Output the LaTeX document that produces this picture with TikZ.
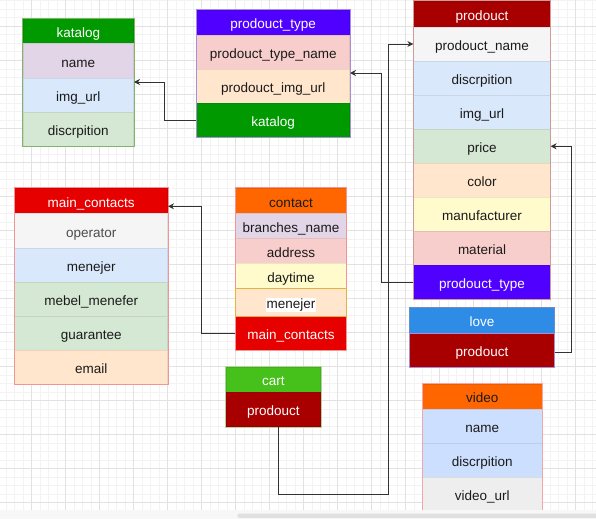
\documentclass[tikz,border=0pt]{standalone}
\usepackage{fontspec}
\setmainfont{Liberation Sans}
\usetikzlibrary{calc,arrows.meta}
\definecolor{gminor}{HTML}{F3F3F3}
\definecolor{gmajor}{HTML}{E2E2E2}
\definecolor{txt}{HTML}{1A1A1A}
\definecolor{hgreen}{HTML}{009900}
\definecolor{hviolet}{HTML}{5000FF}
\definecolor{hdred}{HTML}{A80000}
\definecolor{hred}{HTML}{E60000}
\definecolor{horange}{HTML}{FF6600}
\definecolor{hlime}{HTML}{46C01A}
\definecolor{hblue}{HTML}{2F8CE6}
\definecolor{cpurple}{HTML}{E1D5E7}
\definecolor{cblue}{HTML}{DAE8FC}
\definecolor{cgreen}{HTML}{D5E8D4}
\definecolor{cpink}{HTML}{F8CECC}
\definecolor{cpeach}{HTML}{FFE6CC}
\definecolor{cyellow}{HTML}{FFFBCC}
\definecolor{cgray}{HTML}{F5F5F5}
\definecolor{cgray2}{HTML}{EEEEEE}
\definecolor{cvblue}{HTML}{CDDFFF}
\definecolor{bgreen}{HTML}{82B366}
\definecolor{bviolet}{HTML}{A68FD9}
\definecolor{bred}{HTML}{CF9A9A}
\definecolor{blred}{HTML}{EA6B66}
\definecolor{bblue}{HTML}{6C8EBF}
\definecolor{borange}{HTML}{D79B00}
\definecolor{conncol}{HTML}{333333}
\tikzset{
  cell/.style={rectangle, inner sep=0pt, line width=0.6pt, text=txt,
    font=\fontsize{13.5}{16}\selectfont, text height=13.5pt, text depth=1pt},
  light/.style={text=white},
  outline/.style={line width=0.8pt},
  conn/.style={draw=conncol, line width=0.9pt, -{Stealth[length=6pt,width=6pt]}},
  gridminor/.style={draw=gminor, line width=0.6pt},
  gridmajor/.style={draw=gmajor, line width=0.8pt}
}
% name, x1, y1, x2, y2, fill colour, extra options, text
\newcommand\ercell[8]{%
  \node[cell,fill=#6,draw={#6!92!black},#7,minimum width={(#4-#2)*1pt},minimum height={(#5-#3)*1pt}] (#1)
    at ({(#2+#4)/2},{(#3+#5)/2}) {#8};}
\begin{document}
\begin{tikzpicture}[x=1pt,y=-1pt]
\useasboundingbox (0,0) rectangle (596,519);
\fill[white] (0,0) rectangle (596,519);
% grid
\foreach \i in {0,...,69} \draw[gridminor] ({5.8+8.5*\i},0) -- ({5.8+8.5*\i},510.3);
\foreach \i in {0,...,59} \draw[gridminor] (0,{0.8+8.5*\i}) -- (596,{0.8+8.5*\i});
\foreach \i in {0,...,17} \draw[gridmajor] ({31.3+34*\i},0) -- ({31.3+34*\i},510.3);
\foreach \i in {0,...,14} \draw[gridmajor] (0,{26.3+34*\i}) -- (596,{26.3+34*\i});

% katalog
\ercell{kat_head}{23}{18.3}{133.7}{43.7}{hgreen}{light}{katalog}
\ercell{kat_name}{23}{43.7}{133.7}{78.3}{cpurple}{}{name}
\ercell{kat_img}{23}{78.3}{133.7}{112.3}{cblue}{}{img\_url}
\ercell{kat_disc}{23}{112.3}{133.7}{146}{cgreen}{}{discrpition}
\draw[outline,bgreen] (kat_head.north west) rectangle (kat_disc.south east);

% prodouct_type
\ercell{pt_head}{196.7}{10}{349.7}{35.3}{hviolet}{light}{prodouct\_type}
\ercell{pt_name}{196.7}{35.3}{349.7}{69.3}{cpink}{}{prodouct\_type\_name}
\ercell{pt_img}{196.7}{69.3}{349.7}{103.3}{cpeach}{}{prodouct\_img\_url}
\ercell{pt_kat}{196.7}{103.3}{349.7}{137.3}{hgreen}{light}{katalog}
\draw[outline,bviolet] (pt_head.north west) rectangle (pt_kat.south east);

% prodouct
\ercell{pr_head}{413.7}{1}{550.3}{27}{hdred}{light}{prodouct}
\ercell{pr_name}{413.7}{27}{550.3}{61}{cgray}{}{prodouct\_name}
\ercell{pr_disc}{413.7}{61}{550.3}{95.3}{cblue}{}{discrpition}
\ercell{pr_img}{413.7}{95.3}{550.3}{129.3}{cblue}{}{img\_url}
\ercell{pr_price}{413.7}{129.3}{550.3}{163.3}{cgreen}{}{price}
\ercell{pr_color}{413.7}{163.3}{550.3}{197.3}{cpeach}{}{color}
\ercell{pr_manu}{413.7}{197.3}{550.3}{231}{cyellow}{}{manufacturer}
\ercell{pr_mat}{413.7}{231}{550.3}{265}{cpink}{}{material}
\ercell{pr_type}{413.7}{265}{550.3}{299}{hviolet}{light}{prodouct\_type}
\draw[outline,bred] (pr_head.north west) rectangle (pr_type.south east);

% main_contacts
\ercell{mc_head}{14.7}{188}{167.7}{213.7}{hred}{light}{main\_contacts}
\ercell{mc_op}{14.7}{213.7}{167.7}{248.3}{cgray}{text=black!70}{operator}
\ercell{mc_men}{14.7}{248.3}{167.7}{282.3}{cblue}{}{menejer}
\ercell{mc_meb}{14.7}{282.3}{167.7}{316.3}{cgreen}{}{mebel\_menefer}
\ercell{mc_gua}{14.7}{316.3}{167.7}{350.3}{cgreen}{}{guarantee}
\ercell{mc_email}{14.7}{350.3}{167.7}{384.3}{cpeach}{}{email}
\draw[outline,blred!70] (mc_head.north west) rectangle (mc_email.south east);

% contact
\ercell{ct_head}{235.7}{188}{346.3}{213.7}{horange}{}{contact}
\ercell{ct_br}{235.7}{213.7}{346.3}{238.7}{cpurple}{}{branches\_name}
\ercell{ct_addr}{235.7}{238.7}{346.3}{263.7}{cpink}{}{address}
\ercell{ct_day}{235.7}{263.7}{346.3}{288.3}{cyellow}{}{daytime}
\ercell{ct_men}{235.7}{288.3}{346.3}{316}{cpeach}{}{\setlength{\fboxsep}{1pt}\colorbox{white}{menejer}}
\ercell{ct_main}{235.7}{316}{346.3}{350.3}{hred}{light}{main\_contacts}
\draw[outline,blred!70] (ct_head.north west) rectangle (ct_main.south east);
\draw[outline,borange!75] (ct_men.north west) rectangle (ct_men.south east);

% cart
\ercell{cart_head}{226}{367}{320.7}{392.3}{hlime}{light}{cart}
\ercell{cart_pr}{226}{392.3}{320.7}{426.7}{hdred}{light}{prodouct}
\draw[outline,bgreen!60] (cart_head.north west) rectangle (cart_pr.south east);

% love
\ercell{love_head}{409.7}{307.3}{554.3}{333}{hblue}{draw=bblue,outline,light}{love}
\ercell{love_pr}{409.7}{333}{554.3}{367.3}{hdred}{draw=bviolet,outline,light}{prodouct}

% video
\ercell{vid_head}{422.3}{384}{542}{409.3}{horange}{}{video}
\ercell{vid_name}{422.3}{409.3}{542}{443.7}{cvblue}{}{name}
\ercell{vid_disc}{422.3}{443.7}{542}{477.7}{cvblue}{}{discrpition}
\ercell{vid_url}{422.3}{477.7}{542}{511.7}{cgray2}{}{video\_url}
\draw[outline,blred!60] (vid_head.north west) rectangle (vid_url.south east);

% connectors
\draw[conn] (pt_kat.west) -- ++(-31.7,0) |- ($(kat_img.north east)+(0,4)$);
\draw[conn] (pr_type.west) -- ++(-32,0) |- ($(pt_img.north east)+(0,4)$);
\draw[conn] ($(cart_pr.south)+(5,0)$) -- ++(0,67.3) -| ($(pr_name.west)+(-25,0)$) -- (pr_name.west);
\draw[conn] ($(love_pr.east)+(0,1.8)$) -- ++(17,0) |- (pr_price.east);
\draw[conn] (ct_main.west) -- ++(-34,0) |- ($(mc_head.east)+(0,5.5)$);

% bottom strip
\fill[white!97!black] (0,510.3) rectangle (596,519);
\fill[white!88!black, rounded corners=2pt] (237.3,513.7) rectangle (600,517.8);
\end{tikzpicture}
\end{document}
